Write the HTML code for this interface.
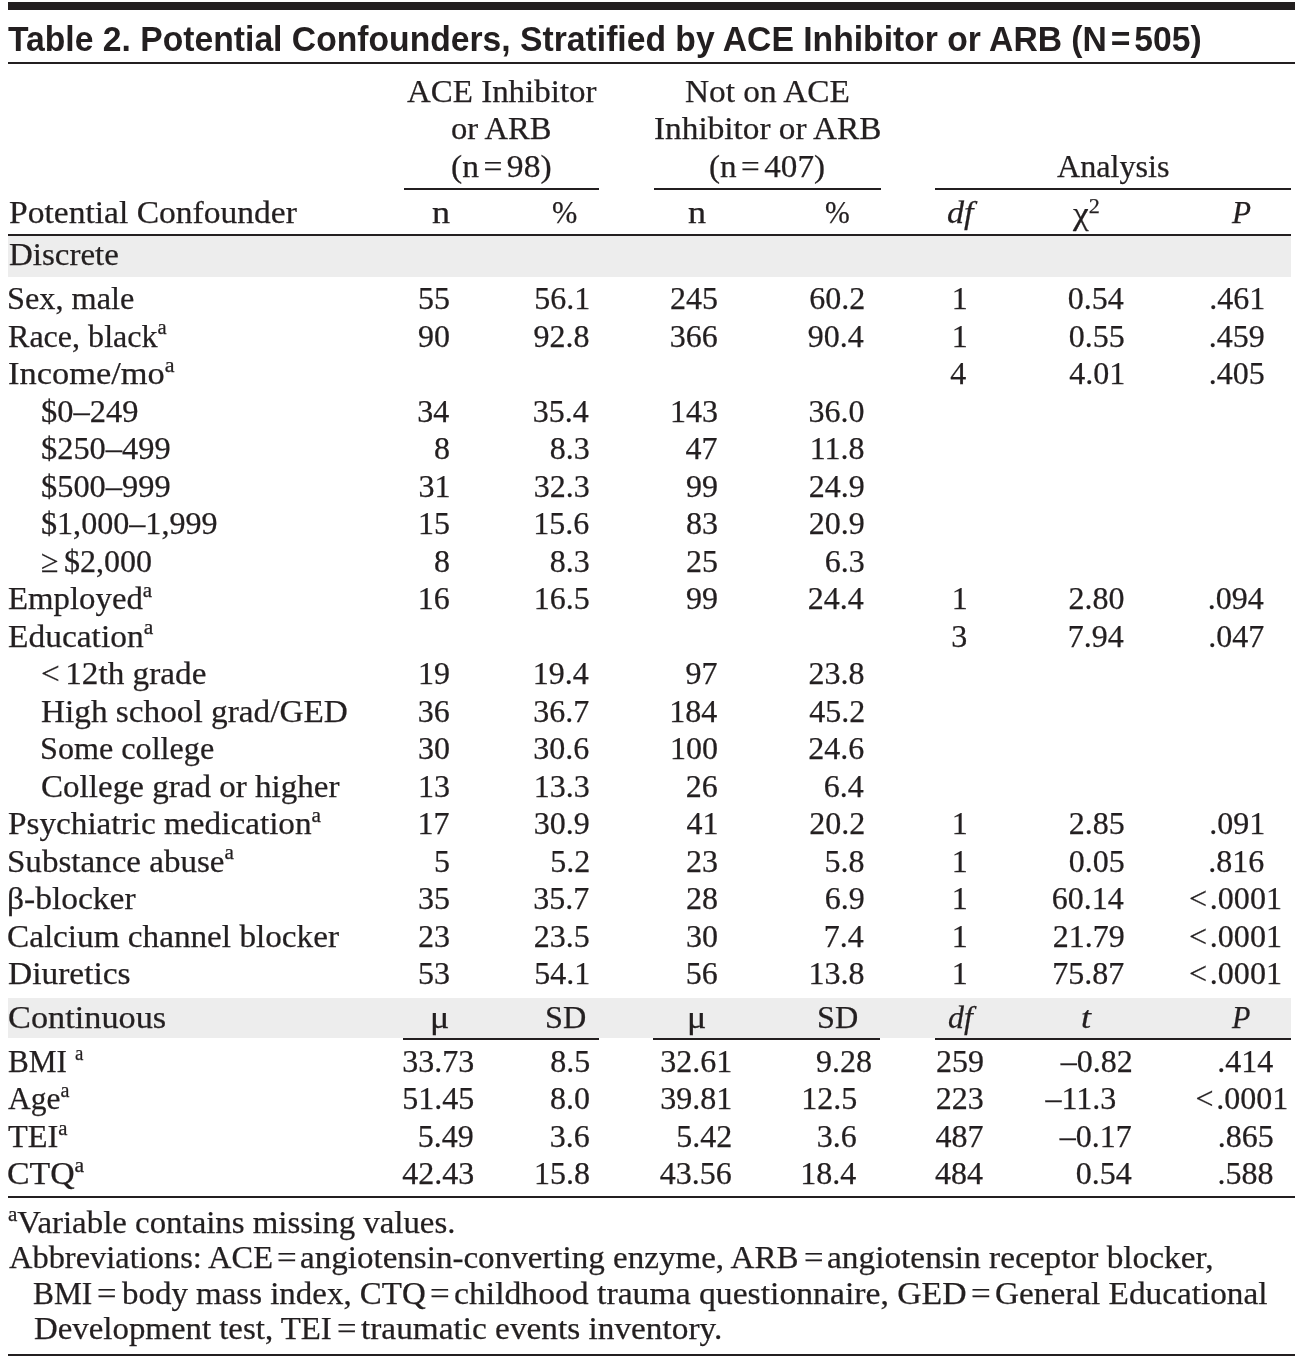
<!DOCTYPE html><html lang="en"><head><meta charset="utf-8"><title>Table 2. Potential Confounders</title><style>
html,body{margin:0;padding:0;background:#fff;}
body{width:1302px;height:1358px;position:relative;overflow:hidden;color:#231f20;font-family:"Liberation Serif",serif;font-size:32px;}
.t{position:absolute;white-space:pre;line-height:40px;height:40px;transform-origin:0 0;font-kerning:normal;-webkit-text-stroke:0.25px #231f20;}
.title{font-family:"Liberation Sans",sans-serif;font-weight:bold;font-size:35px;-webkit-text-stroke:0;}
.it{font-style:italic;}
sup{font-size:20.5px;line-height:0;vertical-align:baseline;position:relative;top:-12.2px;}
sup.two{font-size:20px;top:-11.6px;}
.r{position:absolute;}
h1,p{margin:0;padding:0;font:inherit;}
h1 .title{font-family:"Liberation Sans",sans-serif;font-weight:bold;font-size:35px;}
.el{margin-left:5.2px;}
.eh{margin:0 4.3px;}
.ef{margin:0 5.2px;}
.et{margin:0 4px;}
</style></head><body>
<div class="r" style="left:8.00px;top:236.00px;width:1283.20px;height:40.80px;background:#ededed"></div>
<div class="r" style="left:8.00px;top:998.00px;width:1283.20px;height:39.90px;background:#ededed"></div>
<div class="r" style="left:8.00px;top:1.70px;width:1287.30px;height:8.00px;background:#231f20"></div>
<div class="r" style="left:8.00px;top:62.00px;width:1287.30px;height:2.00px;background:#231f20"></div>
<div class="r" style="left:403.50px;top:187.80px;width:195.00px;height:2.50px;background:#231f20"></div>
<div class="r" style="left:653.50px;top:187.80px;width:227.00px;height:2.50px;background:#231f20"></div>
<div class="r" style="left:934.70px;top:187.80px;width:356.30px;height:2.50px;background:#231f20"></div>
<div class="r" style="left:8.00px;top:233.60px;width:1283.00px;height:2.50px;background:#231f20"></div>
<div class="r" style="left:403.20px;top:1037.90px;width:196.00px;height:2.50px;background:#231f20"></div>
<div class="r" style="left:653.20px;top:1037.90px;width:227.20px;height:2.50px;background:#231f20"></div>
<div class="r" style="left:934.60px;top:1037.90px;width:356.40px;height:2.50px;background:#231f20"></div>
<div class="r" style="left:8.00px;top:1196.10px;width:1287.30px;height:2.30px;background:#231f20"></div>
<div class="r" style="left:8.00px;top:1353.60px;width:1287.30px;height:2.40px;background:#231f20"></div>
<h1><span class="t title" style="left:8.27px;top:19.27px;transform:scaleX(0.9622);">Table 2. Potential Confounders, Stratified by ACE Inhibitor or ARB (N<span class="et">=</span>505)</span></h1>
<div class="tbl" role="table">
<div role="row"><span class="t" style="left:406.99px;top:70.50px;transform:scaleX(1.0300);">ACE Inhibitor</span></div>
<div role="row"><span class="t" style="left:450.98px;top:108.00px;transform:scaleX(1.0182);">or ARB</span></div>
<div role="row"><span class="t" style="left:450.94px;top:145.50px;transform:scaleX(1.0481);">(n<span class="eh">=</span>98)</span></div>
<div role="row"><span class="t" style="left:684.97px;top:70.50px;transform:scaleX(1.0417);">Not on ACE</span></div>
<div role="row"><span class="t" style="left:653.96px;top:108.00px;transform:scaleX(1.0405);">Inhibitor or ARB</span></div>
<div role="row"><span class="t" style="left:708.95px;top:145.50px;transform:scaleX(1.0365);">(n<span class="eh">=</span>407)</span><span class="t" style="left:1056.75px;top:145.50px;transform:scaleX(1.0050);">Analysis</span></div>
<div role="row"><span class="t" style="left:8.71px;top:192.00px;transform:scaleX(1.0482);">Potential Confounder</span><span class="t" style="left:432.07px;top:192.00px;transform:scaleX(1.1300);">n</span><span class="t" style="left:552.05px;top:192.00px;transform:scaleX(0.9495);">%</span><span class="t" style="left:688.07px;top:192.00px;transform:scaleX(1.1300);">n</span><span class="t" style="left:825.07px;top:192.00px;transform:scaleX(0.9294);">%</span><span class="t it" style="left:946.93px;top:191.50px;transform:scaleX(1.0667);">df</span><span class="t" style="left:1073.03px;top:193.40px;transform:scaleX(1.1064);">χ<sup class="two">2</sup></span><span class="t it" style="left:1231.99px;top:191.50px;transform:scaleX(0.9737);">P</span></div>
<div role="row"><span class="t" style="left:8.73px;top:234.20px;transform:scaleX(1.0301);">Discrete</span></div>
<div role="row"><span class="t" style="left:7.23px;top:278.10px;transform:scaleX(1.0085);">Sex, male</span><span class="t" style="left:418.00px;top:278.10px;">55</span><span class="t" style="left:534.25px;top:278.10px;">56.1</span><span class="t" style="left:670.00px;top:278.10px;">245</span><span class="t" style="left:809.25px;top:278.10px;">60.2</span><span class="t" style="left:951.75px;top:278.10px;">1</span><span class="t" style="left:1067.75px;top:278.10px;">0.54</span><span class="t" style="left:1209.25px;top:278.10px;">.461</span></div>
<div role="row"><span class="t" style="left:8.25px;top:315.60px;transform:scaleX(1.0019);">Race, black<sup>a</sup></span><span class="t" style="left:418.00px;top:315.60px;">90</span><span class="t" style="left:533.50px;top:315.60px;">92.8</span><span class="t" style="left:669.75px;top:315.60px;">366</span><span class="t" style="left:807.75px;top:315.60px;">90.4</span><span class="t" style="left:951.75px;top:315.60px;">1</span><span class="t" style="left:1068.75px;top:315.60px;">0.55</span><span class="t" style="left:1208.75px;top:315.60px;">.459</span></div>
<div role="row"><span class="t" style="left:8.18px;top:353.10px;transform:scaleX(1.0751);">Income/mo<sup>a</sup></span><span class="t" style="left:950.25px;top:353.10px;">4</span><span class="t" style="left:1069.25px;top:353.10px;">4.01</span><span class="t" style="left:1208.75px;top:353.10px;">.405</span></div>
<div role="row"><span class="t" style="left:40.73px;top:390.60px;transform:scaleX(1.0144);">$0–249</span><span class="t" style="left:417.25px;top:390.60px;">34</span><span class="t" style="left:532.75px;top:390.60px;">35.4</span><span class="t" style="left:670.00px;top:390.60px;">143</span><span class="t" style="left:808.50px;top:390.60px;">36.0</span></div>
<div role="row"><span class="t" style="left:40.74px;top:428.10px;transform:scaleX(1.0123);">$250–499</span><span class="t" style="left:434.00px;top:428.10px;">8</span><span class="t" style="left:549.75px;top:428.10px;">8.3</span><span class="t" style="left:685.50px;top:428.10px;">47</span><span class="t" style="left:809.75px;top:428.10px;">11.8</span></div>
<div role="row"><span class="t" style="left:40.74px;top:465.60px;transform:scaleX(1.0123);">$500–999</span><span class="t" style="left:418.50px;top:465.60px;">31</span><span class="t" style="left:533.75px;top:465.60px;">32.3</span><span class="t" style="left:686.00px;top:465.60px;">99</span><span class="t" style="left:808.75px;top:465.60px;">24.9</span></div>
<div role="row"><span class="t" style="left:40.75px;top:503.10px;transform:scaleX(1.0032);">$1,000–1,999</span><span class="t" style="left:418.00px;top:503.10px;">15</span><span class="t" style="left:533.25px;top:503.10px;">15.6</span><span class="t" style="left:686.00px;top:503.10px;">83</span><span class="t" style="left:808.75px;top:503.10px;">20.9</span></div>
<div role="row"><span class="t" style="left:40.75px;top:540.60px;transform:scaleX(1.0014);">≥ $2,000</span><span class="t" style="left:434.00px;top:540.60px;">8</span><span class="t" style="left:549.75px;top:540.60px;">8.3</span><span class="t" style="left:686.00px;top:540.60px;">25</span><span class="t" style="left:824.75px;top:540.60px;">6.3</span></div>
<div role="row"><span class="t" style="left:8.23px;top:578.10px;transform:scaleX(1.0254);">Employed<sup>a</sup></span><span class="t" style="left:417.75px;top:578.10px;">16</span><span class="t" style="left:533.75px;top:578.10px;">16.5</span><span class="t" style="left:686.00px;top:578.10px;">99</span><span class="t" style="left:807.75px;top:578.10px;">24.4</span><span class="t" style="left:951.75px;top:578.10px;">1</span><span class="t" style="left:1068.50px;top:578.10px;">2.80</span><span class="t" style="left:1207.75px;top:578.10px;">.094</span></div>
<div role="row"><span class="t" style="left:8.22px;top:615.60px;transform:scaleX(1.0457);">Education<sup>a</sup></span><span class="t" style="left:951.25px;top:615.60px;">3</span><span class="t" style="left:1067.75px;top:615.60px;">7.94</span><span class="t" style="left:1208.25px;top:615.60px;">.047</span></div>
<div role="row"><span class="t" style="left:40.70px;top:653.10px;transform:scaleX(1.0379);">&lt; 12th grade</span><span class="t" style="left:418.00px;top:653.10px;">19</span><span class="t" style="left:532.75px;top:653.10px;">19.4</span><span class="t" style="left:685.50px;top:653.10px;">97</span><span class="t" style="left:808.50px;top:653.10px;">23.8</span></div>
<div role="row"><span class="t" style="left:41.47px;top:690.60px;transform:scaleX(1.0399);">High school grad/GED</span><span class="t" style="left:417.75px;top:690.60px;">36</span><span class="t" style="left:533.25px;top:690.60px;">36.7</span><span class="t" style="left:669.25px;top:690.60px;">184</span><span class="t" style="left:809.25px;top:690.60px;">45.2</span></div>
<div role="row"><span class="t" style="left:40.49px;top:728.10px;transform:scaleX(1.0053);">Some college</span><span class="t" style="left:418.00px;top:728.10px;">30</span><span class="t" style="left:533.25px;top:728.10px;">30.6</span><span class="t" style="left:670.00px;top:728.10px;">100</span><span class="t" style="left:808.25px;top:728.10px;">24.6</span></div>
<div role="row"><span class="t" style="left:40.71px;top:765.60px;transform:scaleX(1.0336);">College grad or higher</span><span class="t" style="left:418.00px;top:765.60px;">13</span><span class="t" style="left:533.75px;top:765.60px;">13.3</span><span class="t" style="left:685.75px;top:765.60px;">26</span><span class="t" style="left:823.75px;top:765.60px;">6.4</span></div>
<div role="row"><span class="t" style="left:8.22px;top:803.10px;transform:scaleX(1.0384);">Psychiatric medication<sup>a</sup></span><span class="t" style="left:417.50px;top:803.10px;">17</span><span class="t" style="left:533.75px;top:803.10px;">30.9</span><span class="t" style="left:686.50px;top:803.10px;">41</span><span class="t" style="left:809.25px;top:803.10px;">20.2</span><span class="t" style="left:951.75px;top:803.10px;">1</span><span class="t" style="left:1068.75px;top:803.10px;">2.85</span><span class="t" style="left:1209.25px;top:803.10px;">.091</span></div>
<div role="row"><span class="t" style="left:7.19px;top:840.60px;transform:scaleX(1.0324);">Substance abuse<sup>a</sup></span><span class="t" style="left:434.00px;top:840.60px;">5</span><span class="t" style="left:550.25px;top:840.60px;">5.2</span><span class="t" style="left:686.00px;top:840.60px;">23</span><span class="t" style="left:824.50px;top:840.60px;">5.8</span><span class="t" style="left:951.75px;top:840.60px;">1</span><span class="t" style="left:1068.75px;top:840.60px;">0.05</span><span class="t" style="left:1208.25px;top:840.60px;">.816</span></div>
<div role="row"><span class="t" style="left:7.16px;top:878.10px;transform:scaleX(1.0464);">β-blocker</span><span class="t" style="left:418.00px;top:878.10px;">35</span><span class="t" style="left:533.25px;top:878.10px;">35.7</span><span class="t" style="left:686.00px;top:878.10px;">28</span><span class="t" style="left:824.75px;top:878.10px;">6.9</span><span class="t" style="left:951.75px;top:878.10px;">1</span><span class="t" style="left:1051.75px;top:878.10px;">60.14</span><span class="t" style="left:1188.74px;top:878.10px;transform:scaleX(1.0034);">&lt; .0001</span></div>
<div role="row"><span class="t" style="left:7.20px;top:915.60px;transform:scaleX(1.0378);">Calcium channel blocker</span><span class="t" style="left:418.00px;top:915.60px;">23</span><span class="t" style="left:533.75px;top:915.60px;">23.5</span><span class="t" style="left:686.00px;top:915.60px;">30</span><span class="t" style="left:823.75px;top:915.60px;">7.4</span><span class="t" style="left:951.75px;top:915.60px;">1</span><span class="t" style="left:1052.75px;top:915.60px;">21.79</span><span class="t" style="left:1188.74px;top:915.60px;transform:scaleX(1.0034);">&lt; .0001</span></div>
<div role="row"><span class="t" style="left:8.22px;top:953.10px;transform:scaleX(1.0450);">Diuretics</span><span class="t" style="left:418.00px;top:953.10px;">53</span><span class="t" style="left:534.25px;top:953.10px;">54.1</span><span class="t" style="left:685.75px;top:953.10px;">56</span><span class="t" style="left:808.50px;top:953.10px;">13.8</span><span class="t" style="left:951.75px;top:953.10px;">1</span><span class="t" style="left:1052.25px;top:953.10px;">75.87</span><span class="t" style="left:1188.74px;top:953.10px;transform:scaleX(1.0034);">&lt; .0001</span></div>
<div role="row"><span class="t" style="left:7.92px;top:997.10px;transform:scaleX(1.0718);">Continuous</span><span class="t" style="left:430.42px;top:997.10px;transform:scaleX(1.1300);">μ</span><span class="t" style="left:544.74px;top:997.10px;transform:scaleX(1.0066);">SD</span><span class="t" style="left:687.34px;top:997.10px;transform:scaleX(1.1300);">μ</span><span class="t" style="left:816.99px;top:997.10px;transform:scaleX(1.0066);">SD</span><span class="t it" style="left:947.50px;top:997.10px;transform:scaleX(0.9963);">df</span><span class="t it" style="left:1081.04px;top:997.10px;transform:scaleX(1.1300);">t</span><span class="t it" style="left:1231.72px;top:997.10px;transform:scaleX(0.9404);">P</span></div>
<div role="row"><span class="t" style="left:8.27px;top:1040.70px;transform:scaleX(0.9753);">BMI</span><span class="t" style="left:75.03px;top:1040.70px;transform:scaleX(0.9200);"><sup>a</sup></span><span class="t" style="left:402.25px;top:1040.70px;">33.73</span><span class="t" style="left:550.25px;top:1040.70px;">8.5</span><span class="t" style="left:660.25px;top:1040.70px;">32.61</span><span class="t" style="left:816.00px;top:1040.70px;">9.28</span><span class="t" style="left:936.00px;top:1040.70px;">259</span><span class="t" style="left:1060.75px;top:1040.70px;">–0.82</span><span class="t" style="left:1217.25px;top:1040.70px;">.414</span></div>
<div role="row"><span class="t" style="left:8.25px;top:1078.20px;transform:scaleX(0.9847);">Age<sup>a</sup></span><span class="t" style="left:402.25px;top:1078.20px;">51.45</span><span class="t" style="left:550.00px;top:1078.20px;">8.0</span><span class="t" style="left:660.25px;top:1078.20px;">39.81</span><span class="t" style="left:801.25px;top:1078.20px;">12.5</span><span class="t" style="left:935.75px;top:1078.20px;">223</span><span class="t" style="left:1045.50px;top:1078.20px;">–11.3</span><span class="t" style="left:1195.50px;top:1078.20px;">&lt; .0001</span></div>
<div role="row"><span class="t" style="left:8.24px;top:1115.70px;transform:scaleX(1.0120);">TEI<sup>a</sup></span><span class="t" style="left:417.75px;top:1115.70px;">5.49</span><span class="t" style="left:549.75px;top:1115.70px;">3.6</span><span class="t" style="left:676.25px;top:1115.70px;">5.42</span><span class="t" style="left:816.75px;top:1115.70px;">3.6</span><span class="t" style="left:935.50px;top:1115.70px;">487</span><span class="t" style="left:1059.75px;top:1115.70px;">–0.17</span><span class="t" style="left:1217.75px;top:1115.70px;">.865</span></div>
<div role="row"><span class="t" style="left:7.18px;top:1153.20px;transform:scaleX(1.0565);">CTQ<sup>a</sup></span><span class="t" style="left:402.25px;top:1153.20px;">42.43</span><span class="t" style="left:534.00px;top:1153.20px;">15.8</span><span class="t" style="left:659.75px;top:1153.20px;">43.56</span><span class="t" style="left:800.25px;top:1153.20px;">18.4</span><span class="t" style="left:935.00px;top:1153.20px;">484</span><span class="t" style="left:1075.75px;top:1153.20px;">0.54</span><span class="t" style="left:1217.50px;top:1153.20px;">.588</span></div>
</div>
<div class="notes">
<p><span class="t" style="left:7.98px;top:1201.80px;transform:scaleX(1.0270);"><sup>a</sup>Variable contains missing values.</span></p>
<p><span class="t" style="left:9.00px;top:1237.40px;transform:scaleX(1.0137);">Abbreviations: ACE</span><span class="t" style="left:276.63px;top:1237.40px;transform:scaleX(1.0919);">=</span><span class="t" style="left:300.46px;top:1237.40px;transform:scaleX(1.0331);">angiotensin-converting enzyme, ARB</span><span class="t" style="left:803.62px;top:1237.40px;transform:scaleX(1.0836);">=</span><span class="t" style="left:827.21px;top:1237.40px;transform:scaleX(1.0422);">angiotensin receptor blocker,</span></p>
<p><span class="t" style="left:33.26px;top:1272.80px;transform:scaleX(0.9813);">BMI</span><span class="t" style="left:97.39px;top:1272.80px;transform:scaleX(1.0820);">=</span><span class="t" style="left:121.76px;top:1272.80px;transform:scaleX(1.0293);">body mass index, CTQ</span><span class="t" style="left:430.37px;top:1272.80px;transform:scaleX(1.0919);">=</span><span class="t" style="left:454.19px;top:1272.80px;transform:scaleX(1.0523);">childhood trauma questionnaire, GED</span><span class="t" style="left:970.86px;top:1272.80px;transform:scaleX(1.0938);">=</span><span class="t" style="left:994.95px;top:1272.80px;transform:scaleX(1.0396);">General Educational</span></p>
<p><span class="t" style="left:34.23px;top:1308.20px;transform:scaleX(1.0269);">Development test, TEI</span><span class="t" style="left:336.62px;top:1308.20px;transform:scaleX(1.0836);">=</span><span class="t" style="left:361.24px;top:1308.20px;transform:scaleX(1.0409);">traumatic events inventory.</span></p>
</div>
</body></html>
